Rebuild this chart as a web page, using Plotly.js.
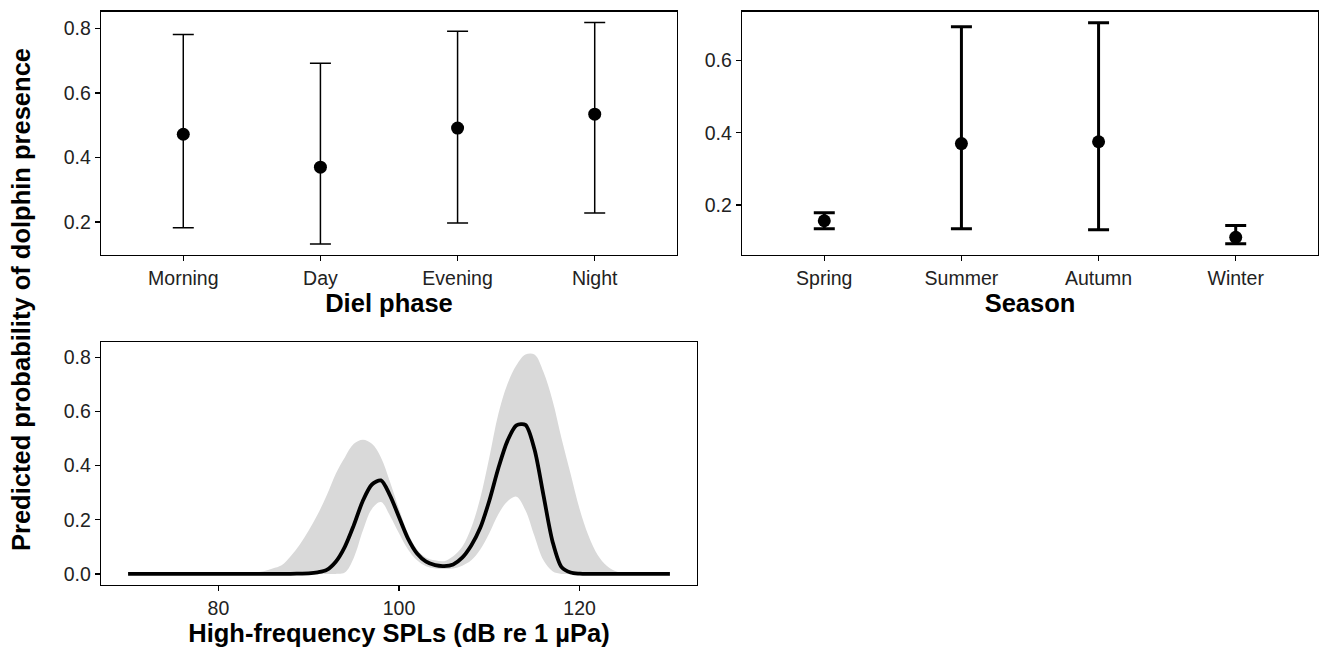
<!DOCTYPE html>
<html>
<head>
<meta charset="utf-8">
<script src="https://cdn.plot.ly/plotly-3.0.1.min.js"></script>
<style>
    body { margin: 0; background: #fff; }
    #chart { width: 1328px; height: 658px; }
</style>
</head>
<body>
<div id="chart"></div>
<script>
// diel phase panel
let phases = ["Morning", "Day", "Evening", "Night"];
let phaseFit = [0.472, 0.370, 0.491, 0.534];
let phaseLower = [0.182, 0.132, 0.197, 0.228];
let phaseUpper = [0.781, 0.692, 0.791, 0.818];

// season panel
let seasons = ["Spring", "Summer", "Autumn", "Winter"];
let seasonFit = [0.156, 0.370, 0.375, 0.110];
let seasonLower = [0.134, 0.134, 0.131, 0.092];
let seasonUpper = [0.178, 0.694, 0.705, 0.143];

// high-frequency SPL panel
let spl = [70, 75, 80, 83, 84, 85, 86, 87, 88, 89, 90, 91, 92, 93, 94, 95, 96, 97, 98, 99,
    100, 101, 102, 103, 104, 105, 106, 107, 108, 109, 110, 111, 112, 113, 114, 115, 116, 117,
    118, 119, 120, 121, 122, 123, 124, 125, 126, 130];
let splFit = [0, 0, 0, 0, 0, 0, 0, 0, 0, 0.001, 0.002, 0.006, 0.015, 0.045, 0.10, 0.18, 0.27, 0.33, 0.345, 0.29,
    0.21, 0.13, 0.075, 0.045, 0.032, 0.029, 0.035, 0.06, 0.105, 0.17, 0.27, 0.39, 0.49, 0.548, 0.55, 0.46, 0.29, 0.12,
    0.025, 0.005, 0.001, 0, 0, 0, 0, 0, 0, 0];
let splLower = [0, 0, 0, 0, 0, 0, 0, 0, 0, 0, 0, 0, 0, 0, 0.005, 0.06, 0.16, 0.24, 0.265, 0.215,
    0.15, 0.09, 0.05, 0.028, 0.02, 0.018, 0.02, 0.03, 0.05, 0.09, 0.15, 0.22, 0.267, 0.285, 0.235, 0.14, 0.05, 0.01,
    0, 0, 0, 0, 0, 0, 0, 0, 0, 0];
let splUpper = [0, 0, 0, 0.002, 0.005, 0.01, 0.02, 0.032, 0.065, 0.108, 0.16, 0.22, 0.29, 0.37, 0.43, 0.48, 0.495, 0.48, 0.43, 0.34,
    0.24, 0.15, 0.09, 0.06, 0.05, 0.047, 0.065, 0.10, 0.17, 0.28, 0.43, 0.59, 0.70, 0.77, 0.81, 0.81, 0.745, 0.64,
    0.5, 0.37, 0.24, 0.14, 0.07, 0.03, 0.01, 0.003, 0, 0];

let chart = document.getElementById("chart");

let tickFont = { family: "Liberation Sans, Arial, sans-serif", size: 19.5, color: "#222" };
let titleFont = { family: "Liberation Sans, Arial, sans-serif", size: 25.5, color: "#000", weight: "bold" };

function axisStyle(extra) {
    let base = {
        showline: true,
        mirror: true,
        linecolor: "#000",
        linewidth: 1.3,
        ticks: "outside",
        ticklen: 5,
        tickwidth: 1.3,
        tickcolor: "#000",
        tickfont: tickFont,
        showgrid: false,
        zeroline: false,
        fixedrange: true,
    };
    return Object.assign(base, extra);
}

function errorTrace(cats, fit, lower, upper, axis, thickness) {
    return {
        x: cats,
        y: fit,
        xaxis: "x" + axis,
        yaxis: "y" + axis,
        type: "scatter",
        mode: "markers",
        marker: { color: "#000", size: 13 },
        error_y: {
            type: "data",
            symmetric: false,
            array: upper.map((u, i) => u - fit[i]),
            arrayminus: lower.map((l, i) => fit[i] - l),
            color: "#000",
            thickness: thickness,
            width: 10.5,
        },
        hoverinfo: "skip",
        showlegend: false,
    };
}

function drawChart() {
    let traces = [
        errorTrace(phases, phaseFit, phaseLower, phaseUpper, "", 1.5),
        errorTrace(seasons, seasonFit, seasonLower, seasonUpper, "2", 3),
        {
            x: spl,
            y: splLower,
            xaxis: "x3",
            yaxis: "y3",
            type: "scatter",
            mode: "lines",
            line: { width: 0, shape: "spline" },
            hoverinfo: "skip",
            showlegend: false,
        },
        {
            x: spl,
            y: splUpper,
            xaxis: "x3",
            yaxis: "y3",
            type: "scatter",
            mode: "lines",
            fill: "tonexty",
            fillcolor: "#d9d9d9",
            line: { width: 0, shape: "spline" },
            hoverinfo: "skip",
            showlegend: false,
        },
        {
            x: spl,
            y: splFit,
            xaxis: "x3",
            yaxis: "y3",
            type: "scatter",
            mode: "lines",
            line: { color: "#000", width: 3.8, shape: "spline", smoothing: 0.8 },
            hoverinfo: "skip",
            showlegend: false,
        },
    ];

    let layout = {
        width: 1328,
        height: 658,
        margin: { l: 0, r: 0, t: 0, b: 0 },
        paper_bgcolor: "#fff",
        plot_bgcolor: "#fff",
        xaxis: axisStyle({
            domain: [0.07605, 0.50979],
            range: [-0.6, 3.6],
            type: "category",
            anchor: "y",
            title: { text: "Diel phase", font: titleFont, standoff: 2 },
        }),
        yaxis: axisStyle({
            domain: [0.61246, 0.98252],
            range: [0.098, 0.852],
            tickvals: [0.2, 0.4, 0.6, 0.8],
            tickformat: ".1f",
            anchor: "x",
        }),
        xaxis2: axisStyle({
            domain: [0.55873, 0.99247],
            range: [-0.6, 3.6],
            type: "category",
            anchor: "y2",
            title: { text: "Season", font: titleFont, standoff: 2 },
        }),
        yaxis2: axisStyle({
            domain: [0.61246, 0.98252],
            range: [0.061, 0.736],
            tickvals: [0.2, 0.4, 0.6],
            tickformat: ".1f",
            anchor: "x2",
        }),
        xaxis3: axisStyle({
            domain: [0.07605, 0.52485],
            range: [67, 133],
            tickvals: [80, 100, 120],
            anchor: "y3",
            title: { text: "High-frequency SPLs (dB re 1 µPa)", font: titleFont, standoff: 2 },
        }),
        yaxis3: axisStyle({
            domain: [0.11094, 0.48024],
            range: [-0.041, 0.856],
            tickvals: [0, 0.2, 0.4, 0.6, 0.8],
            tickformat: ".1f",
            anchor: "x3",
        }),
        annotations: [
            {
                text: "Predicted probability of dolphin presence",
                xref: "paper",
                yref: "paper",
                x: 21 / 1328,
                y: 1 - 300 / 658,
                xanchor: "center",
                yanchor: "middle",
                textangle: -90,
                showarrow: false,
                font: { family: "Liberation Sans, Arial, sans-serif", size: 25.5, color: "#000", weight: "bold" },
            },
        ],
    };

    Plotly.newPlot(chart, traces, layout, { displayModeBar: false, staticPlot: true });
}

drawChart();
</script>
</body>
</html>
